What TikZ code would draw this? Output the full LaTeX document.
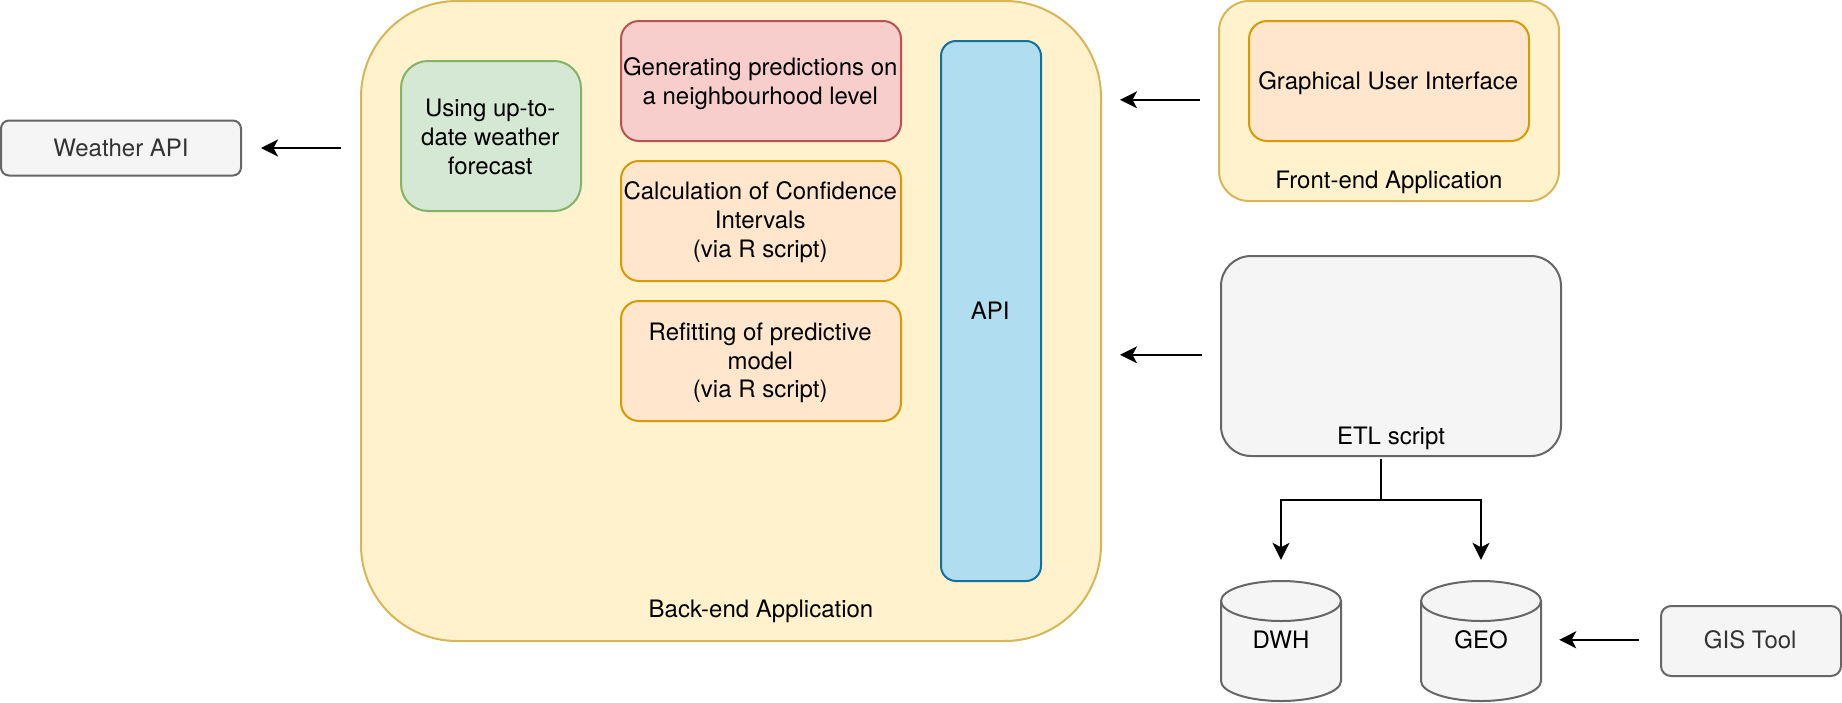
\documentclass[tikz,border=0pt]{standalone}
\usepackage{fontspec}
\setmainfont{TeX Gyre Heros}
\usetikzlibrary{arrows.meta,calc}
\definecolor{yfill}{HTML}{FFF2CC}\definecolor{ydraw}{HTML}{D6B656}
\definecolor{ofill}{HTML}{FFE6CC}\definecolor{odraw}{HTML}{D79B00}
\definecolor{rfill}{HTML}{F8CECC}\definecolor{rdraw}{HTML}{B85450}
\definecolor{gfill}{HTML}{D5E8D4}\definecolor{gdraw}{HTML}{82B366}
\definecolor{bfill}{HTML}{B1DDF0}\definecolor{bdraw}{HTML}{10739E}
\definecolor{nfill}{HTML}{F5F5F5}\definecolor{ndraw}{HTML}{666666}
\definecolor{ntext}{HTML}{333333}
\newcommand{\lowtext}[2]{\kern-1.5pt\raisebox{#1}[\height][\depth]{\begin{tabular}{@{}c@{}}#2\end{tabular}}}
\tikzset{
  lbl/.style={font=\fontsize{24}{28.8}\selectfont,align=center,inner sep=0pt,text=black},
  boxbase/.style={lbl,draw,line width=2pt,rectangle,inner sep=0pt},
  yellowbox/.style={boxbase,fill=yfill,draw=ydraw},
  orangebox/.style={boxbase,fill=ofill,draw=odraw,minimum width=280pt,minimum height=120pt,rounded corners=18pt},
  redbox/.style={boxbase,fill=rfill,draw=rdraw},
  greenbox/.style={boxbase,fill=gfill,draw=gdraw},
  bluebox/.style={boxbase,fill=bfill,draw=bdraw},
  greybox/.style={boxbase,fill=nfill,draw=ndraw,text=ntext},
  cylbody/.style={fill=nfill,draw=ndraw,line width=2pt},
  arr/.style={draw=black,line width=2pt,-{Stealth[length=17pt,width=17pt,inset=4.5pt]}},
  gap/.style={shorten >=#1,shorten <=18pt},
}
\newcommand{\cylshape}[1]{%
  \path[cylbody] (#1-60,601) .. controls (#1-60,590) and (#1-33,581) .. (#1,581)
     .. controls (#1+33,581) and (#1+60,590) .. (#1+60,601) -- (#1+60,681)
     .. controls (#1+60,692) and (#1+33,701) .. (#1,701)
     .. controls (#1-33,701) and (#1-60,692) .. (#1-60,681) -- cycle;
  \path[cylbody,fill=none] (#1-60,601) .. controls (#1-60,612) and (#1-33,621) .. (#1,621)
     .. controls (#1+33,621) and (#1+60,612) .. (#1+60,601);
}
\begin{document}
\begin{tikzpicture}[x=1pt,y=-1pt]
\useasboundingbox (0,0) rectangle (1842,702);
% containers
\node[yellowbox,minimum width=740pt,minimum height=640pt,rounded corners=96pt] (backend) at (731,321) {};
\node[yellowbox,minimum width=340pt,minimum height=200pt,rounded corners=30pt] (frontend) at (1389,101) {};
\node[greybox,minimum width=340pt,minimum height=200pt,rounded corners=30pt] (etl) at (1391,356) {};
% inner boxes
\node[greenbox,minimum width=180pt,minimum height=150pt,rounded corners=27pt] (weatheruse) at (491,136) {\lowtext{-3.5pt}{Using up-to-\\date weather\\forecast}};
\node[redbox,minimum width=280pt,minimum height=120pt,rounded corners=18pt] (predict) at (761,81) {\lowtext{-3.5pt}{Generating predictions on\\a neighbourhood level}};
\node[orangebox] (conf) at (761,221) {\lowtext{-2pt}{Calculation of Confidence\\Intervals\\(via R script)}};
\node[orangebox] (refit) at (761,361) {\lowtext{-2.4pt}{Refitting of predictive\\model\\(via R script)}};
\node[bluebox,minimum width=100pt,minimum height=540pt,rounded corners=15pt] (api) at (991,311) {\lowtext{-2.4pt}{API}};
\node[orangebox] (gui) at (1389,81) {\lowtext{-2.4pt}{Graphical User Interface}};
% labels of containers
\node[lbl] (backlabel) at (761,611.5) {Back-end Application};
\node[lbl] (frontlabel) at (1389,182) {Front-end Application};
\node[lbl] (etllabel) at (1391,438) {ETL script};
% outer boxes
\node[greybox,minimum width=240pt,minimum height=55pt,rounded corners=8pt] (weather) at (121,148) {Weather API};
\node[greybox,minimum width=180pt,minimum height=70pt,rounded corners=10pt] (gis) at (1751,641) {\lowtext{-1.5pt}{GIS Tool}};
% cylinders
\cylshape{1281}
\cylshape{1481}
\node[lbl,minimum width=120pt,minimum height=120pt] (dwh) at (1281,640) {DWH};
\node[lbl,minimum width=120pt,minimum height=120pt] (geo) at (1481,640) {GEO};
% connectors
\coordinate (stemtop) at (1381,459);
\coordinate (branch) at (1381,500);
\draw[arr,gap=19pt,shorten <=19.5pt] (weather.east -| backend.west) -- (weather.east);
\draw[arr,gap=18pt] ([yshift=1.2pt]frontend.west) -- ([yshift=1.2pt]frontend.west -| backend.east);
\draw[arr,gap=18pt] ([yshift=1.2pt]etl.west) -- ([yshift=1.2pt]etl.west -| backend.east);
\draw[arr,gap=18pt,shorten <=21pt] ([yshift=1.2pt]gis.west) -- ([yshift=1.2pt]gis.west -| geo.east);
\draw[arr,shorten >=20pt] (stemtop) -- (branch) -| (dwh.north);
\draw[arr,shorten >=20pt] (stemtop) -- (branch) -| (geo.north);
\end{tikzpicture}
\end{document}
